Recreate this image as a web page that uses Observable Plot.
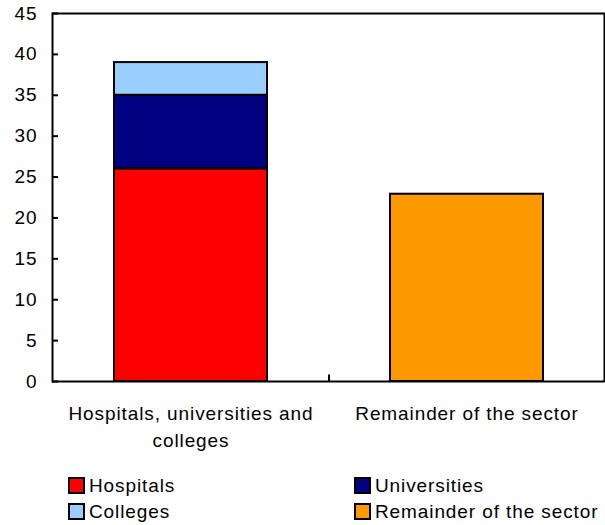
<!DOCTYPE html>
<html>
<head>
<meta charset="utf-8">
<script src="https://cdn.jsdelivr.net/npm/d3@7"></script>
<script src="https://cdn.jsdelivr.net/npm/@observablehq/plot@0.6"></script>
<style>
  html, body { margin: 0; padding: 0; background: #fff; }
  body { width: 605px; height: 525px; font-family: "Liberation Sans", Arial, sans-serif; }
  #chart svg { display: block; }
  .legend { position: relative; height: 65px; font-size: 19px; letter-spacing: 0.9px; color: #000; }
  .legend .item { position: absolute; display: flex; align-items: center; line-height: 1; }
  .legend .sw { width: 13px; height: 13px; border: 2px solid #000; margin-right: 4px; box-sizing: content-box; }
</style>
</head>
<body>
<div id="chart"></div>
<div class="legend" id="legend"></div>
<script>
// Category groups along the x axis
const groups = ["Hospitals, universities and colleges", "Remainder of the sector"];
// Two-line labels for the groups
const groupLabels = ["Hospitals, universities and\ncolleges", "Remainder of the sector"];
// Stacked components, the group each belongs to, and their values
const components = ["Hospitals", "Universities", "Colleges", "Remainder of the sector"];
const componentGroup = [groups[0], groups[0], groups[0], groups[1]];
const componentValues = [26, 9, 4, 22.9];
const componentColors = ["#ff0000", "#000080", "#99ccff", "#ff9900"];
// Y axis ticks
const yTicks = [0, 5, 10, 15, 20, 25, 30, 35, 40, 45];

const rows = components.map((c, i) => ({component: c, group: componentGroup[i], value: componentValues[i]}));

const W = 605, H = 460, mL = 52, mR = 1, mT = 13, mB = 79;
const step = (W - mL - mR) / groups.length;

const chart = Plot.plot({
  width: W,
  height: H,
  marginLeft: mL,
  marginRight: mR,
  marginTop: mT,
  marginBottom: mB,
  style: {fontFamily: "'Liberation Sans', Arial, sans-serif", fontSize: "19px", letterSpacing: "0.9px", color: "#000", background: "#fff"},
  x: {domain: groups, paddingInner: 0.446, paddingOuter: 0.223, label: null},
  y: {domain: [0, 45], label: null},
  color: {domain: components, range: componentColors},
  marks: [
    Plot.barY(rows, {x: "group", y: "value", fill: "component", stroke: "#000", strokeWidth: 2, order: components}),
    Plot.frame({stroke: "#000", strokeWidth: 2}),
    // y axis labels, with inward ticks drawn separately
    Plot.axisY({ticks: yTicks, tickSize: 0, tickPadding: 15, fontSize: 19, label: null}),
    Plot.axisY({ticks: yTicks, tickSize: 6, dx: 6, strokeWidth: 2, tickFormat: () => "", label: null}),
    // category labels below the axis
    Plot.axisX({tickSize: 0, tickPadding: 19, fontSize: 19, lineHeight: 1.42, label: null,
      tickFormat: d => groupLabels[groups.indexOf(d)]}),
    // tick between the two categories, pointing up from the baseline
    Plot.ruleX([groups[1]], {x: d => d, dx: -step / 2, y1: 0, y2: 0.8, stroke: "#000", strokeWidth: 2})
  ]
});
document.getElementById("chart").append(chart);

// Legend: two columns, two rows
const legend = document.getElementById("legend");
const pos = [[68, 16], [354, 16], [68, 42], [354, 42]];
components.forEach((c, i) => {
  const item = document.createElement("div");
  item.className = "item";
  item.style.left = pos[i][0] + "px";
  item.style.top = pos[i][1] + "px";
  const sw = document.createElement("span");
  sw.className = "sw";
  sw.style.background = componentColors[i];
  const t = document.createElement("span");
  t.textContent = c;
  item.append(sw, t);
  legend.append(item);
});
</script>
</body>
</html>
